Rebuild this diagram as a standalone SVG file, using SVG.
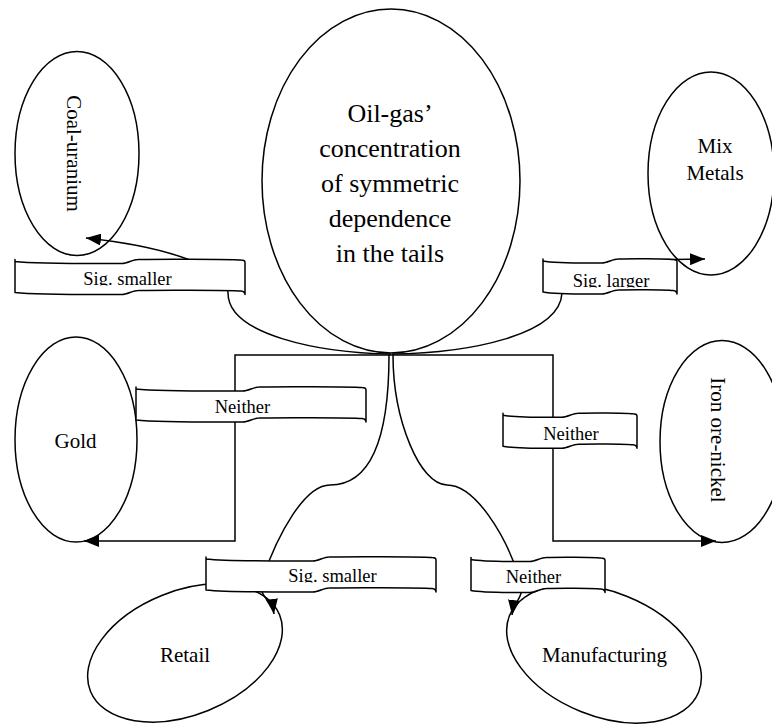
<svg xmlns="http://www.w3.org/2000/svg" width="772" height="724" viewBox="0 0 772 724">
<style>
.n{fill:#fff;stroke:#000;stroke-width:1.5}
.c{fill:none;stroke:#000;stroke-width:1.5}
.b{fill:#fff;stroke:#000;stroke-width:1.5;stroke-linejoin:round}
.t{font-family:"Liberation Serif","Times New Roman",serif;fill:#000;text-anchor:middle}
.tn{font-size:21px}
.tc{font-size:26px}
.tl{font-size:18.5px}
</style>
<defs>
<marker id="ah" markerUnits="userSpaceOnUse" viewBox="0 0 15 12" markerWidth="15" markerHeight="12" refX="15" refY="6" orient="auto">
<path d="M0,0 L15,6 L0,12 Z" fill="#000"/>
</marker>
<path id="bl" d="M0,-2 L0,31 C23,33.5 95,33 107,33 C112,33 118,29 123,29 C135,28.5 215,28.5 226,29.5 Q230,30 230,33 L230,1 Q230,-1.5 226,-1.5 C215,-2.5 135,-2.5 123,-2 C118,-2 112,2 107,2 C95,2 23,2.5 0,0 Z"/>
<path id="bs" d="M0,-2 L0,31 C13,33.5 50,33 59,33 C64,33 70,29 75,29 C85,28.5 122,28.5 130,29.5 Q134,30 134,33 L134,1 Q134,-1.5 130,-1.5 C122,-2.5 85,-2.5 75,-2 C70,-2 64,2 59,2 C50,2 13,2.5 0,0 Z"/>
<clipPath id="k1"><rect x="15" y="262" width="230" height="23.5"/></clipPath>
<clipPath id="k2"><rect x="543" y="262" width="134" height="25.5"/></clipPath>
<clipPath id="k5"><rect x="206" y="560" width="230" height="22.5"/></clipPath>
</defs>

<g id="node-center">
<ellipse class="n" cx="391" cy="181" rx="129" ry="172"/>
<text class="t tc" x="390" y="121.7">Oil-gas’</text>
<text class="t tc" x="390" y="156.7">concentration</text>
<text class="t tc" x="390" y="191.7">of symmetric</text>
<text class="t tc" x="390" y="226.7">dependence</text>
<text class="t tc" x="390" y="261.7">in the tails</text>
</g>
<g id="node-coal">
<ellipse class="n" cx="77" cy="153.5" rx="62" ry="102"/>
<text class="t tn" transform="translate(74.5,153.5) rotate(90)" x="0" y="7.5">Coal-uranium</text>
</g>
<g id="node-mix">
<ellipse class="n" cx="711" cy="173.5" rx="63" ry="101.5"/>
<text class="t tn" x="715" y="153.3">Mix</text>
<text class="t tn" x="715" y="180">Metals</text>
</g>
<g id="node-gold">
<ellipse class="n" cx="76" cy="439.5" rx="61" ry="102.5"/>
<text class="t tn" x="75.5" y="448">Gold</text>
</g>
<g id="node-iron">
<ellipse class="n" cx="722" cy="441.5" rx="62" ry="101"/>
<text class="t tn" transform="translate(718,440) rotate(90)" x="0" y="7">Iron ore-nickel</text>
</g>
<g id="node-retail">
<ellipse class="n" cx="185" cy="653" rx="102" ry="62" transform="rotate(-22 185 653)"/>
<text class="t tn" x="185" y="662">Retail</text>
</g>
<g id="node-manufacturing">
<ellipse class="n" cx="604" cy="654" rx="102" ry="62" transform="rotate(22 604 654)"/>
<text class="t tn" x="604.5" y="662">Manufacturing</text>
</g>

<g id="connectors">
<path class="c" marker-end="url(#ah)" d="M391,354 C320,353 228,335 228,293 C228,268 170,247 86,238"/>
<path class="c" marker-end="url(#ah)" d="M392,354 C470,353 560,335 562,293 C563,272 600,261 640,260 L705,259"/>
<path class="c" marker-end="url(#ah)" d="M391,355 L235,355 L235,541 L84,541"/>
<path class="c" marker-end="url(#ah)" d="M391,355 L553,355 L553,541 L716,541"/>
<path class="c" marker-end="url(#ah)" d="M389,355 C389,450 365,485 330,485 C305,485 278,533 262,580 C257,596 272,600 274,614"/>
<path class="c" marker-end="url(#ah)" d="M393,355 C393,420 420,485 447,485 C475,485 506,535 520,580 C526,597 514,600 512,615"/>
</g>

<g id="edge-labels">
<g id="label-coal">
<use class="b" href="#bl" x="15" y="261.5"/>
<text class="t tl" x="127.5" y="284.5" clip-path="url(#k1)">Sig. smaller</text>
</g>
<g id="label-mix">
<use class="b" href="#bs" x="543" y="261"/>
<text class="t tl" x="611" y="286.5" clip-path="url(#k2)">Sig. larger</text>
</g>
<g id="label-gold">
<use class="b" href="#bl" x="136" y="389"/>
<text class="t tl" x="242.5" y="413.3">Neither</text>
</g>
<g id="label-iron">
<use class="b" href="#bs" x="503" y="415.3"/>
<text class="t tl" x="571" y="440">Neither</text>
</g>
<g id="label-retail">
<use class="b" href="#bl" x="206" y="559"/>
<text class="t tl" x="332.5" y="581.5" clip-path="url(#k5)">Sig. smaller</text>
</g>
<g id="label-manufacturing">
<use class="b" href="#bs" x="471" y="559.5"/>
<text class="t tl" x="533.5" y="582.7">Neither</text>
</g>
</g>
</svg>
